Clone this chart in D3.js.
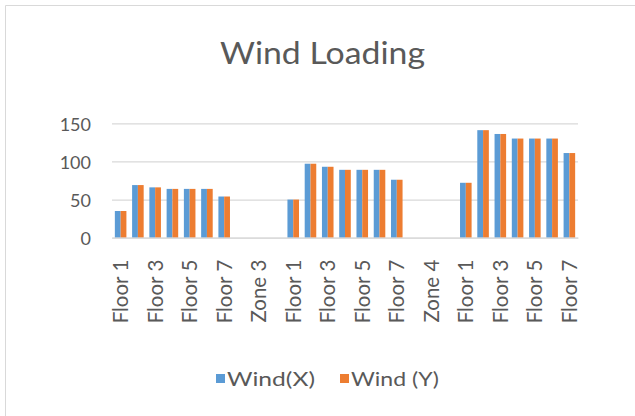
<!DOCTYPE html>
<html>
<head>
<meta charset="utf-8">
<script src="https://cdn.jsdelivr.net/npm/d3@7"></script>
<style>
  html, body { margin: 0; padding: 0; background: #ffffff; }
  svg { display: block; }
  text { font-family: Lato, "Open Sans", sans-serif; fill: #595959; }
</style>
</head>
<body>
<svg id="chart" width="635" height="416"></svg>
<script>
// Category labels along the x axis (blank slots separate the zones)
const categories = [
  "Floor 1", "Floor 2", "Floor 3", "Floor 4", "Floor 5", "Floor 6", "Floor 7",
  "", "Zone 3", "",
  "Floor 1", "Floor 2", "Floor 3", "Floor 4", "Floor 5", "Floor 6", "Floor 7",
  "", "Zone 4", "",
  "Floor 1", "Floor 2", "Floor 3", "Floor 4", "Floor 5", "Floor 6", "Floor 7"
];

// Wind load per floor
const windX = [35, 69, 66, 64, 64, 64, 54, null, null, null,
               50, 97, 93, 89, 89, 89, 76, null, null, null,
               72, 141, 136, 130, 130, 130, 111];
const windY = [35, 69, 66, 64, 64, 64, 54, null, null, null,
               50, 97, 93, 89, 89, 89, 76, null, null, null,
               72, 141, 136, 130, 130, 130, 111];

const seriesNames = ["Wind(X)", "Wind (Y)"];
const seriesColors = ["#5b9bd5", "#ed7d31"];
const yTicks = [0, 50, 100, 150];
const chartTitle = "Wind Loading";

const svg = d3.select("#chart");

// Chart area frame (top and left edges)
svg.append("path")
  .attr("d", "M5.5,416 V5.5 H635")
  .attr("fill", "none")
  .attr("stroke", "#d9d9d9")
  .attr("stroke-width", 1);

const plot = { left: 112, right: 578, top: 123.3, bottom: 237.7 };

const x = d3.scaleBand()
  .domain(d3.range(categories.length))
  .range([plot.left, plot.right])
  .paddingInner(0.33)
  .paddingOuter(0.165);

const xs = d3.scaleBand()
  .domain([0, 1])
  .range([0, x.bandwidth()]);

const y = d3.scaleLinear()
  .domain([0, 150])
  .range([plot.bottom, plot.top]);

// Title
svg.append("text")
  .attr("x", 322.5)
  .attr("y", 64)
  .attr("text-anchor", "middle")
  .attr("textLength", 205)
  .attr("lengthAdjust", "spacingAndGlyphs")
  .style("font-size", "31px")
  .text(chartTitle);

// Horizontal gridlines and value labels
const yAxis = svg.append("g")
  .attr("transform", `translate(${plot.left},0)`)
  .call(d3.axisLeft(y)
    .tickValues(yTicks)
    .tickSize(-(plot.right - plot.left))
    .tickPadding(21)
    .tickFormat(d3.format("d")));
yAxis.select(".domain").remove();
yAxis.selectAll(".tick line").attr("stroke", "#d9d9d9").attr("stroke-width", 1.3);
yAxis.selectAll(".tick text")
  .style("font-size", "18px")
  .style("fill", "#595959")
  .attr("dy", "0.4em");

// Bars
const series = [windX, windY];
series.forEach((vals, s) => {
  svg.append("g")
    .selectAll("rect")
    .data(vals.map((v, i) => ({ i, v })).filter(d => d.v != null))
    .join("rect")
    .attr("x", d => x(d.i) + xs(s))
    .attr("y", d => y(d.v))
    .attr("width", xs.bandwidth())
    .attr("height", d => y(0) - y(d.v))
    .attr("fill", seriesColors[s]);
});

// Category axis with rotated labels (every second category)
const xAxis = svg.append("g")
  .attr("transform", `translate(0,${plot.bottom})`)
  .call(d3.axisBottom(x)
    .tickValues(d3.range(0, categories.length, 2))
    .tickSize(0)
    .tickFormat(i => categories[i]));
xAxis.select(".domain").attr("stroke", "#d9d9d9").attr("stroke-width", 1.3);
xAxis.selectAll(".tick text")
  .style("font-size", "20.5px")
  .style("fill", "#595959")
  .attr("text-anchor", "end")
  .attr("transform", "rotate(-90)")
  .attr("x", -22)
  .attr("y", 0)
  .attr("dy", "0.36em");

// Legend
const legend = svg.append("g").attr("transform", "translate(216,378)");
const legendX = [0, 124];
seriesNames.forEach((name, s) => {
  const g = legend.append("g").attr("transform", `translate(${legendX[s]},0)`);
  g.append("rect")
    .attr("x", 0).attr("y", -4)
    .attr("width", 9).attr("height", 9)
    .attr("fill", seriesColors[s]);
  g.append("text")
    .attr("x", 11)
    .attr("y", 1)
    .attr("dy", "0.35em")
    .attr("textLength", 88)
    .attr("lengthAdjust", "spacingAndGlyphs")
    .style("font-size", "20px")
    .text(name);
});
</script>
</body>
</html>
